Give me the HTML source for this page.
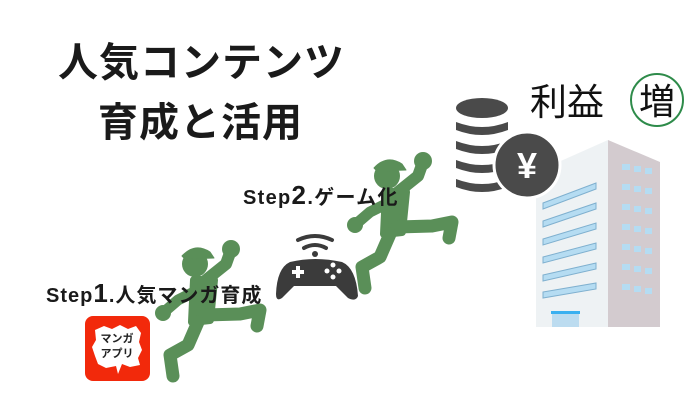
<!DOCTYPE html>
<html><head><meta charset="utf-8"><style>
html,body{margin:0;padding:0;background:#fff;width:700px;height:420px;overflow:hidden}
.t{position:absolute;font-family:"Liberation Sans","Noto Sans CJK JP",sans-serif;font-weight:bold;color:#1a1a1a;white-space:nowrap}
</style></head><body>
<svg width="700" height="420" style="position:absolute;left:0;top:0">
<defs>
<g id="run" fill="#5a8f58" stroke="#5a8f58" stroke-linecap="round" stroke-linejoin="round">
 <circle cx="195" cy="264" r="13" stroke="none"/>
 <path d="M182 256 Q195 242 210 252 L214 258 L185 259Z"/>
 <polyline points="206,280 226,264 231,250" fill="none" stroke-width="12"/>
 <circle cx="231" cy="249" r="9" stroke="none"/>
 <polygon points="194,280 214,280 210,320 192,322" stroke-width="8"/>
 <polyline points="198,290 178,300 164,312" fill="none" stroke-width="11"/>
 <circle cx="163" cy="313" r="8" stroke="none"/>
 <polyline points="205,315 240,314 260,310 257,326" fill="none" stroke-width="13"/>
 <polyline points="198,322 188,345 170,355 173,376" fill="none" stroke-width="13"/>
</g>
</defs>
<use href="#run"/>
<use href="#run" transform="translate(192,-88)"/>
<!-- manga app -->
<rect x="85" y="316" width="65" height="65" rx="8" fill="#f2290b"/>
<path d="M95 330 L104 326 L112 329 L120 325 L128 329 L136 326 L141 333 L139 342 L142 350 L138 358 L140 365 L130 367 L122 364 L118 374 L116 366 L106 368 L98 364 L95 356 L92 347 L96 340Z" fill="#fff"/>
<text x="117" y="342" font-family="Liberation Sans,Noto Sans CJK JP,sans-serif" font-size="11" font-weight="bold" text-anchor="middle" fill="#222">マンガ</text>
<text x="117" y="357" font-family="Liberation Sans,Noto Sans CJK JP,sans-serif" font-size="11" font-weight="bold" text-anchor="middle" fill="#222">アプリ</text>
<!-- controller -->
<path d="M298 240 Q315 232 332 240" stroke="#3b3b3b" stroke-width="4" fill="none" stroke-linecap="round"/>
<path d="M304 248 Q315 242 326 248" stroke="#3b3b3b" stroke-width="4" fill="none" stroke-linecap="round"/>
<circle cx="315" cy="254" r="3" fill="#3b3b3b"/>
<path d="M290 262 Q315 256 342 262 Q356 268 358 296 Q356 302 348 298 L336 286 L294 286 L282 298 Q276 302 276 294 Q277 268 290 262Z" fill="#3b3b3b"/>
<rect x="292" y="270" width="12" height="4" fill="#fff"/><rect x="296" y="266" width="4" height="12" fill="#fff"/>
<circle cx="333" cy="265" r="2.5" fill="#fff"/><circle cx="333" cy="277" r="2.5" fill="#fff"/><circle cx="327" cy="271" r="2.5" fill="#fff"/><circle cx="339" cy="271" r="2.5" fill="#fff"/>
<!-- building -->
<polygon points="536,172 608,140 608,327 536,327" fill="#eef2f4"/>
<polygon points="608,140 660,162 660,327 608,327" fill="#d3cbcf"/>
<g fill="#b5dcf2" stroke="#7fb0cf" stroke-width="1">
<polygon points="543,203 596,183 596,189 543,209"/>
<polygon points="543,221 596,203 596,209 543,227"/>
<polygon points="543,239 596,223 596,229 543,245"/>
<polygon points="543,257 596,243 596,249 543,263"/>
<polygon points="543,275 596,263 596,269 543,281"/>
<polygon points="543,292 596,283 596,289 543,298"/>
</g>
<g fill="#b5dcf2">
<rect x="622" y="164" width="8" height="6"/><rect x="634" y="166" width="7" height="6"/><rect x="645" y="168" width="7" height="6"/>
<rect x="622" y="184" width="8" height="6"/><rect x="634" y="186" width="7" height="6"/><rect x="645" y="188" width="7" height="6"/>
<rect x="622" y="204" width="8" height="6"/><rect x="634" y="206" width="7" height="6"/><rect x="645" y="208" width="7" height="6"/>
<rect x="622" y="224" width="8" height="6"/><rect x="634" y="226" width="7" height="6"/><rect x="645" y="228" width="7" height="6"/>
<rect x="622" y="244" width="8" height="6"/><rect x="634" y="246" width="7" height="6"/><rect x="645" y="248" width="7" height="6"/>
<rect x="622" y="264" width="8" height="6"/><rect x="634" y="266" width="7" height="6"/><rect x="645" y="268" width="7" height="6"/>
<rect x="622" y="284" width="8" height="6"/><rect x="634" y="286" width="7" height="6"/><rect x="645" y="288" width="7" height="6"/>
</g>
<rect x="552" y="312" width="27" height="15" fill="#bcdcf0"/>
<rect x="551" y="311" width="29" height="3" fill="#3ab0f0"/>
<!-- coins -->
<g fill="#4a4a4a">
<ellipse cx="482" cy="108" rx="26" ry="10"/>
<path d="M456 122 Q482 132 508 122 L508 130 Q482 140 456 130Z"/>
<path d="M456 141 Q482 151 508 141 L508 149 Q482 159 456 149Z"/>
<path d="M456 160 Q482 170 508 160 L508 168 Q482 178 456 168Z"/>
<path d="M456 179 Q482 189 508 179 L508 187 Q482 197 456 187Z"/>
</g>
<circle cx="527" cy="165" r="33" fill="#4a4a4a" stroke="#fff" stroke-width="3"/>
<text x="527" y="178" font-family="Liberation Sans,sans-serif" font-size="36" font-weight="bold" text-anchor="middle" fill="#fff">¥</text>
<!-- 増 -->
<circle cx="657" cy="100" r="26" fill="#fff" stroke="#2e8b4a" stroke-width="2"/>
<text x="657" y="114" font-family="Liberation Sans,Noto Sans CJK JP,sans-serif" font-size="36" text-anchor="middle" fill="#111">増</text>
</svg>
<div class="t" style="left:58px;top:30px;font-size:40px;letter-spacing:1px">人気コンテンツ</div>
<div class="t" style="left:98px;top:90px;font-size:40px;letter-spacing:1px">育成と活用</div>
<div class="t" style="left:46px;top:278px;font-size:20px;letter-spacing:1px">Step<span style="font-size:26px">1</span>.人気マンガ育成</div>
<div class="t" style="left:243px;top:180px;font-size:20px;letter-spacing:1.3px">Step<span style="font-size:26px">2</span>.ゲーム化</div>
<div class="t" style="left:530px;top:72px;font-size:37px;font-weight:normal;color:#111">利益</div>
</body></html>
